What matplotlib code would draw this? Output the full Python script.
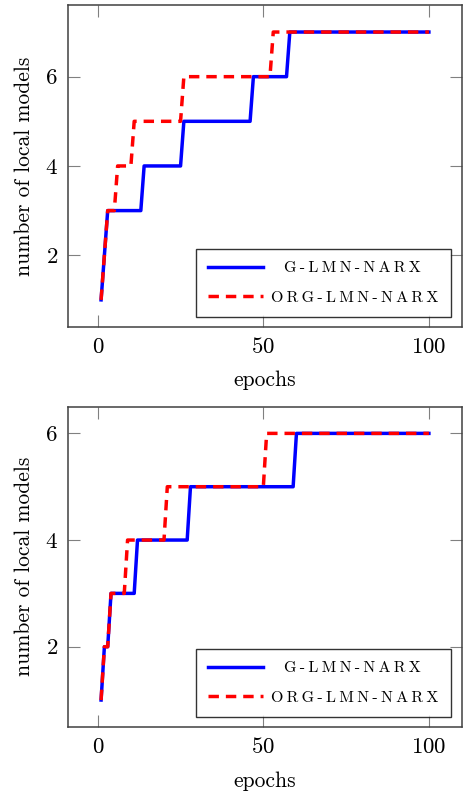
import numpy as np
import matplotlib
matplotlib.use('Agg')
import matplotlib.pyplot as plt

# datos (vertices de las escaleras)
top_g_epochs = [1, 3, 13, 14, 25, 26, 46, 47, 57, 58, 100]
top_g_models = [1, 3, 3, 4, 4, 5, 5, 6, 6, 7, 7]
top_org_epochs = [1, 3, 5, 6, 10, 11, 25, 26, 52, 53, 100]
top_org_models = [1, 3, 3, 4, 4, 5, 5, 6, 6, 7, 7]

bot_g_epochs = [1, 2, 3, 4, 11, 12, 27, 28, 59, 60, 100]
bot_g_models = [1, 2, 2, 3, 3, 4, 4, 5, 5, 6, 6]
bot_org_epochs = [1, 2, 3, 4, 8, 9, 20, 21, 50, 51, 100]
bot_org_models = [1, 2, 2, 3, 3, 4, 4, 5, 5, 6, 6]

labels = ['G-LMN-NARX', 'ORG-LMN-NARX']
x_ticks = [0, 50, 100]
y_ticks = [2, 4, 6]

plt.rcParams['font.family'] = ['cmr10', 'DejaVu Serif']
plt.rcParams['mathtext.fontset'] = 'cm'
plt.rcParams['axes.formatter.use_mathtext'] = True


def spaced(s, pad=0):
    # imitamos las versalitas con espacios finos entre letras
    return '\u2009' * pad + '\u2009'.join(s)


fig = plt.figure(figsize=(4.64, 7.95), dpi=100)
ax1 = fig.add_axes([0.1472, 0.5891, 0.8478, 0.4043])
ax2 = fig.add_axes([0.1472, 0.0859, 0.8478, 0.4025])

panels = [
    (ax1, top_g_epochs, top_g_models, top_org_epochs, top_org_models, (0.4, 7.6)),
    (ax2, bot_g_epochs, bot_g_models, bot_org_epochs, bot_org_models, (0.5, 6.5)),
]

for ax, ge, gm, oe, om, ylim in panels:
    ax.plot(ge, gm, color='#0000ff', lw=2.5, label=spaced(labels[0], 4))
    ax.plot(oe, om, color='#ff0000', lw=2.5, ls=(0, (3, 2)), label=spaced(labels[1]))
    ax.set_xlim(-8.9, 109.9)
    ax.set_ylim(*ylim)
    ax.set_xticks(x_ticks)
    ax.set_yticks(y_ticks)
    ax.tick_params(direction='in', length=8.5, width=0.8, color='#808080',
                   top=True, right=True, labelsize=16.5, pad=7.5)
    for sp in ax.spines.values():
        sp.set_color('#404040')
        sp.set_linewidth(1.1)
    ax.set_xlabel('epochs', fontsize=15.5, labelpad=10)
    ax.set_ylabel('number of local models', fontsize=15.5, labelpad=8)
    leg = ax.legend(loc='lower right', bbox_to_anchor=(0.972, 0.031), borderaxespad=0,
                    fontsize=11.5, handlelength=3.4, handletextpad=0.55,
                    labelspacing=0.95, borderpad=0.75, fancybox=False)
    leg.get_frame().set_edgecolor('black')
    leg.get_frame().set_linewidth(1.0)

plt.savefig('out.png', dpi=100)
